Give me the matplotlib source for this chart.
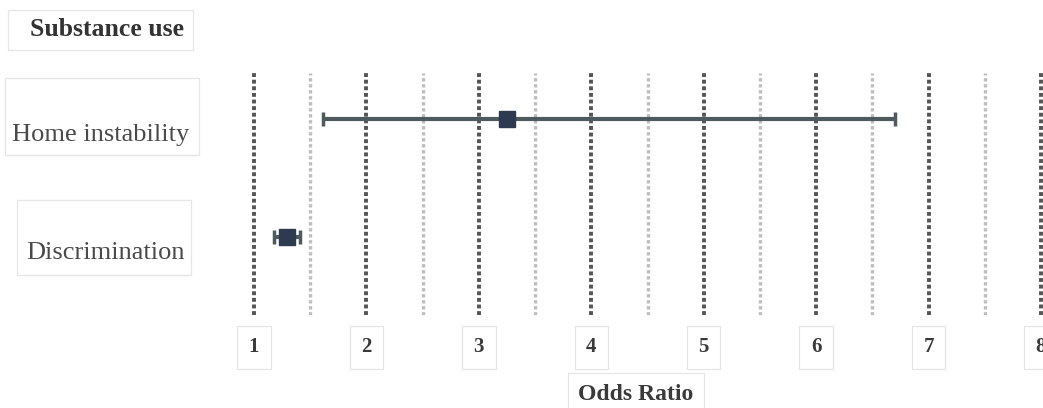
import numpy as np
import matplotlib as mpl
mpl.use('Agg')
import matplotlib.pyplot as plt
from matplotlib.patches import Rectangle

# rows of the forest plot, top to bottom
categories = ['Substance use', 'Home instability', 'Discrimination']
oddsRatio = [np.nan, 3.25, 1.29]
lowerCI = [np.nan, 1.61, 1.18]
upperCI = [np.nan, 6.70, 1.41]
xTicks = [1, 2, 3, 4, 5, 6, 7, 8]

plt.rcParams['font.family'] = ['Liberation Serif', 'DejaVu Serif']

W, H = 1043, 408
fig = plt.figure(figsize=(W / 100, H / 100), dpi=100)
ax = fig.add_axes([254 / W, 1 - 315 / H, (1041 - 254) / W, (315 - 73) / H])

yPos = [2, 1, 0]
ax.set_xlim(1, 8)
ax.set_ylim(-0.66, 1.39)

# dotted grid: integers darker, halves lighter
for x in xTicks:
    ax.axvline(x, color='#555555', lw=2.8, ls=(0, (1, 0.7)), zorder=1, clip_on=False)
for x in np.arange(1.5, 8, 1):
    ax.axvline(x, color='#bdbdbd', lw=2.4, ls=(0, (1, 0.8)), zorder=1)

for i in range(len(categories)):
    if np.isnan(oddsRatio[i]):
        continue
    err = [[oddsRatio[i] - lowerCI[i]], [upperCI[i] - oddsRatio[i]]]
    ax.errorbar(oddsRatio[i], yPos[i], xerr=err, fmt='s', color='#2e3a4f',
                ms=11, ecolor='#4f5a5e', elinewidth=3, capsize=5, capthick=2.5, zorder=3)

for s in ax.spines.values():
    s.set_visible(False)
ax.set_yticks([])
ax.set_xticks(xTicks)
ax.set_xticklabels([str(t) for t in xTicks], fontsize=15, fontweight='bold', color='#3a3a3a')
ax.tick_params(axis='x', length=0, pad=16)
for label in ax.get_xticklabels():
    label.set_bbox(dict(facecolor='white', edgecolor='#e4e4e4', lw=0.8, boxstyle='square,pad=0.55'))

ax.set_xlabel('Odds Ratio', fontsize=17, fontweight='bold', color='#3a3a3a',
              bbox=dict(facecolor='white', edgecolor='#e4e4e4', lw=0.8, boxstyle='square,pad=0.45'))
ax.xaxis.set_label_coords((636 - 254) / (1041 - 254), -(394 - 315) / (315 - 73))
ax.xaxis.label.set_va('center')

# row labels in faint boxes on the left
labelX = [107, 101, 105]
labelY = [30, 135, 253]
labelBox = [(8, 10, 193, 50), (5, 78, 199, 155), (17, 200, 191, 275)]
labelBold = [True, False, False]
for i in range(len(categories)):
    x0, y0, x1, y1 = labelBox[i]
    fig.patches.append(Rectangle((x0 / W, 1 - y1 / H), (x1 - x0) / W, (y1 - y0) / H,
                                 transform=fig.transFigure, facecolor='none',
                                 edgecolor='#e6e6e6', lw=0.9))
    fig.text(labelX[i] / W, 1 - labelY[i] / H, categories[i], ha='center', va='center',
             fontsize=18.5 if labelBold[i] else 19,
             fontweight='bold' if labelBold[i] else 'normal',
             color='#333333' if labelBold[i] else '#4a4a4a')

plt.savefig('out.png', dpi=100)
